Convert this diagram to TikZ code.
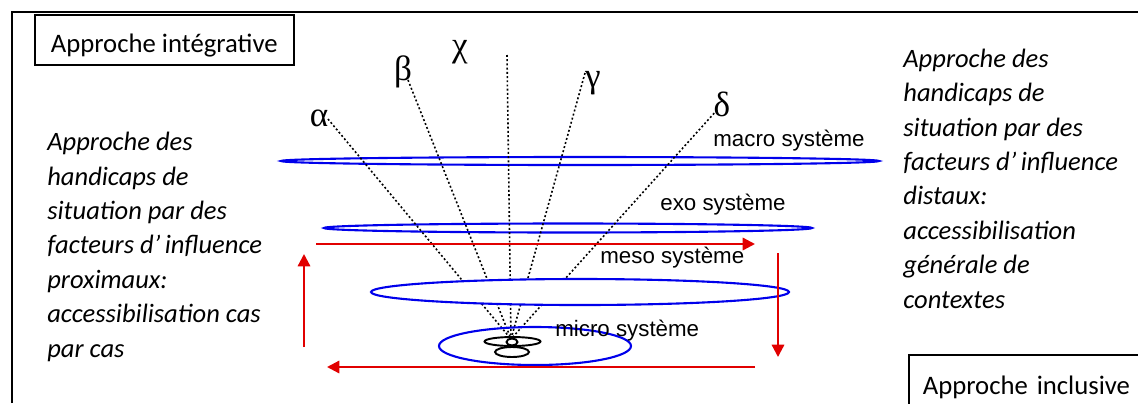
\documentclass[tikz,border=0pt]{standalone}
\usepackage{fontspec}
\setmainfont{Carlito}
\newfontfamily\syslabelfont{Liberation Sans}
\newfontfamily\greekfont{Liberation Serif}
\usetikzlibrary{arrows.meta}
\definecolor{SysBlue}{RGB}{0,0,235}
\definecolor{LoopRed}{RGB}{225,0,0}

\begin{document}
\begin{tikzpicture}[x=0.02cm, y=-0.02cm, >={Triangle[length=7pt,width=7pt]},
    sys/.style={draw=SysBlue, line width=1.2pt},
    loop/.style={->, draw=LoopRed, line width=1.3pt},
    ray/.style={dash pattern=on 1.1pt off 1.3pt, line width=0.9pt},
    petal/.style={draw, fill=white, line width=1.1pt},
    greek/.style={font=\greekfont\fontsize{20}{22}\selectfont, inner sep=0pt},
    syslabel/.style={font=\syslabelfont\fontsize{12.7}{15}\selectfont, inner sep=0pt},
    approach/.style={draw, line width=0.9pt, inner sep=0pt,
        font=\fontsize{15.2}{17}\selectfont},
    factors/.style={align=left, inner sep=0pt,
        font=\itshape\fontsize{15.1}{19.56}\selectfont}]
\useasboundingbox (0,0) rectangle (1138,403);

% cadre
\draw[line width=1.1pt] (12,403) -- (12,12) -- (1138,12);

\node[approach, anchor=north west, minimum width=5.18cm,
    text height=0.76cm, text depth=0.24cm] (integ) at (34,14)
    {Approche intégrative};
\node[approach, anchor=north west, text width=4.6cm, align=left,
    inner xsep=0.28cm, text height=0.8cm, text depth=0.24cm] (incl)
    at (908,354) {Approche inclusive};

% base = dernière ligne
\node[factors, anchor=base west] (proxi) at (47,357)
    {Approche des\\handicaps de\\situation par des\\facteurs d’\,influence\\proximaux:\\accessibilisation cas\\par cas};
\node[factors, anchor=base west] (dist) at (903,308)
    {Approche des\\handicaps de\\situation par des\\facteurs d’\,influence\\distaux:\\accessibilisation\\générale de\\contextes};

% systèmes
\draw[sys] (580,161) ellipse (299 and 4);
\draw[sys] (568,228) ellipse (244 and 4.5);

\node[greek] (alpha) at (319,118) {α};
\node[greek] (beta) at (403,72) {β};
\node[greek] (chi) at (460,52) {χ};
\node[greek] (gamma) at (593,83) {γ};
\node[greek] (delta) at (722,104) {δ};

\coordinate (focus) at (511,339);
\coordinate (ra) at (328,119);
\coordinate (rb) at (408,80);
\coordinate (rc) at (507,55);
\coordinate (rg) at (585,73);
\coordinate (rd) at (717,110);
\foreach \r in {ra,rb,rc,rg,rd}
    \draw[ray] (\r) -- (focus);

\draw[sys, fill=white] (580,292) ellipse (209 and 13);
\draw[sys] (535,346) ellipse (96 and 19);

\draw[petal] (512,352) ellipse (17 and 5);
\draw[petal] (512.5,341.5) ellipse (28 and 4.5);
\draw[petal] (512,342) ellipse (5.5 and 3.5);

\node[syslabel, anchor=base west] (macro) at (713,146) {macro système};
\node[syslabel, anchor=base west] (exo) at (660,210) {exo système};
\node[syslabel, anchor=base west] (meso) at (600,263) {meso système};
\node[syslabel, anchor=base west] (micro) at (555,336) {micro système};

% boucle
\coordinate (la) at (316,244);
\coordinate (lb) at (755,244);
\coordinate (lc) at (778,253);
\coordinate (ld) at (778,357);
\coordinate (le) at (755,367);
\coordinate (lf) at (327,367);
\coordinate (lg) at (304,347);
\coordinate (lh) at (304,254);
\draw[loop] (la) -- (lb);
\draw[loop] (lc) -- (ld);
\draw[loop] (le) -- (lf);
\draw[loop] (lg) -- (lh);
\end{tikzpicture}
\end{document}
